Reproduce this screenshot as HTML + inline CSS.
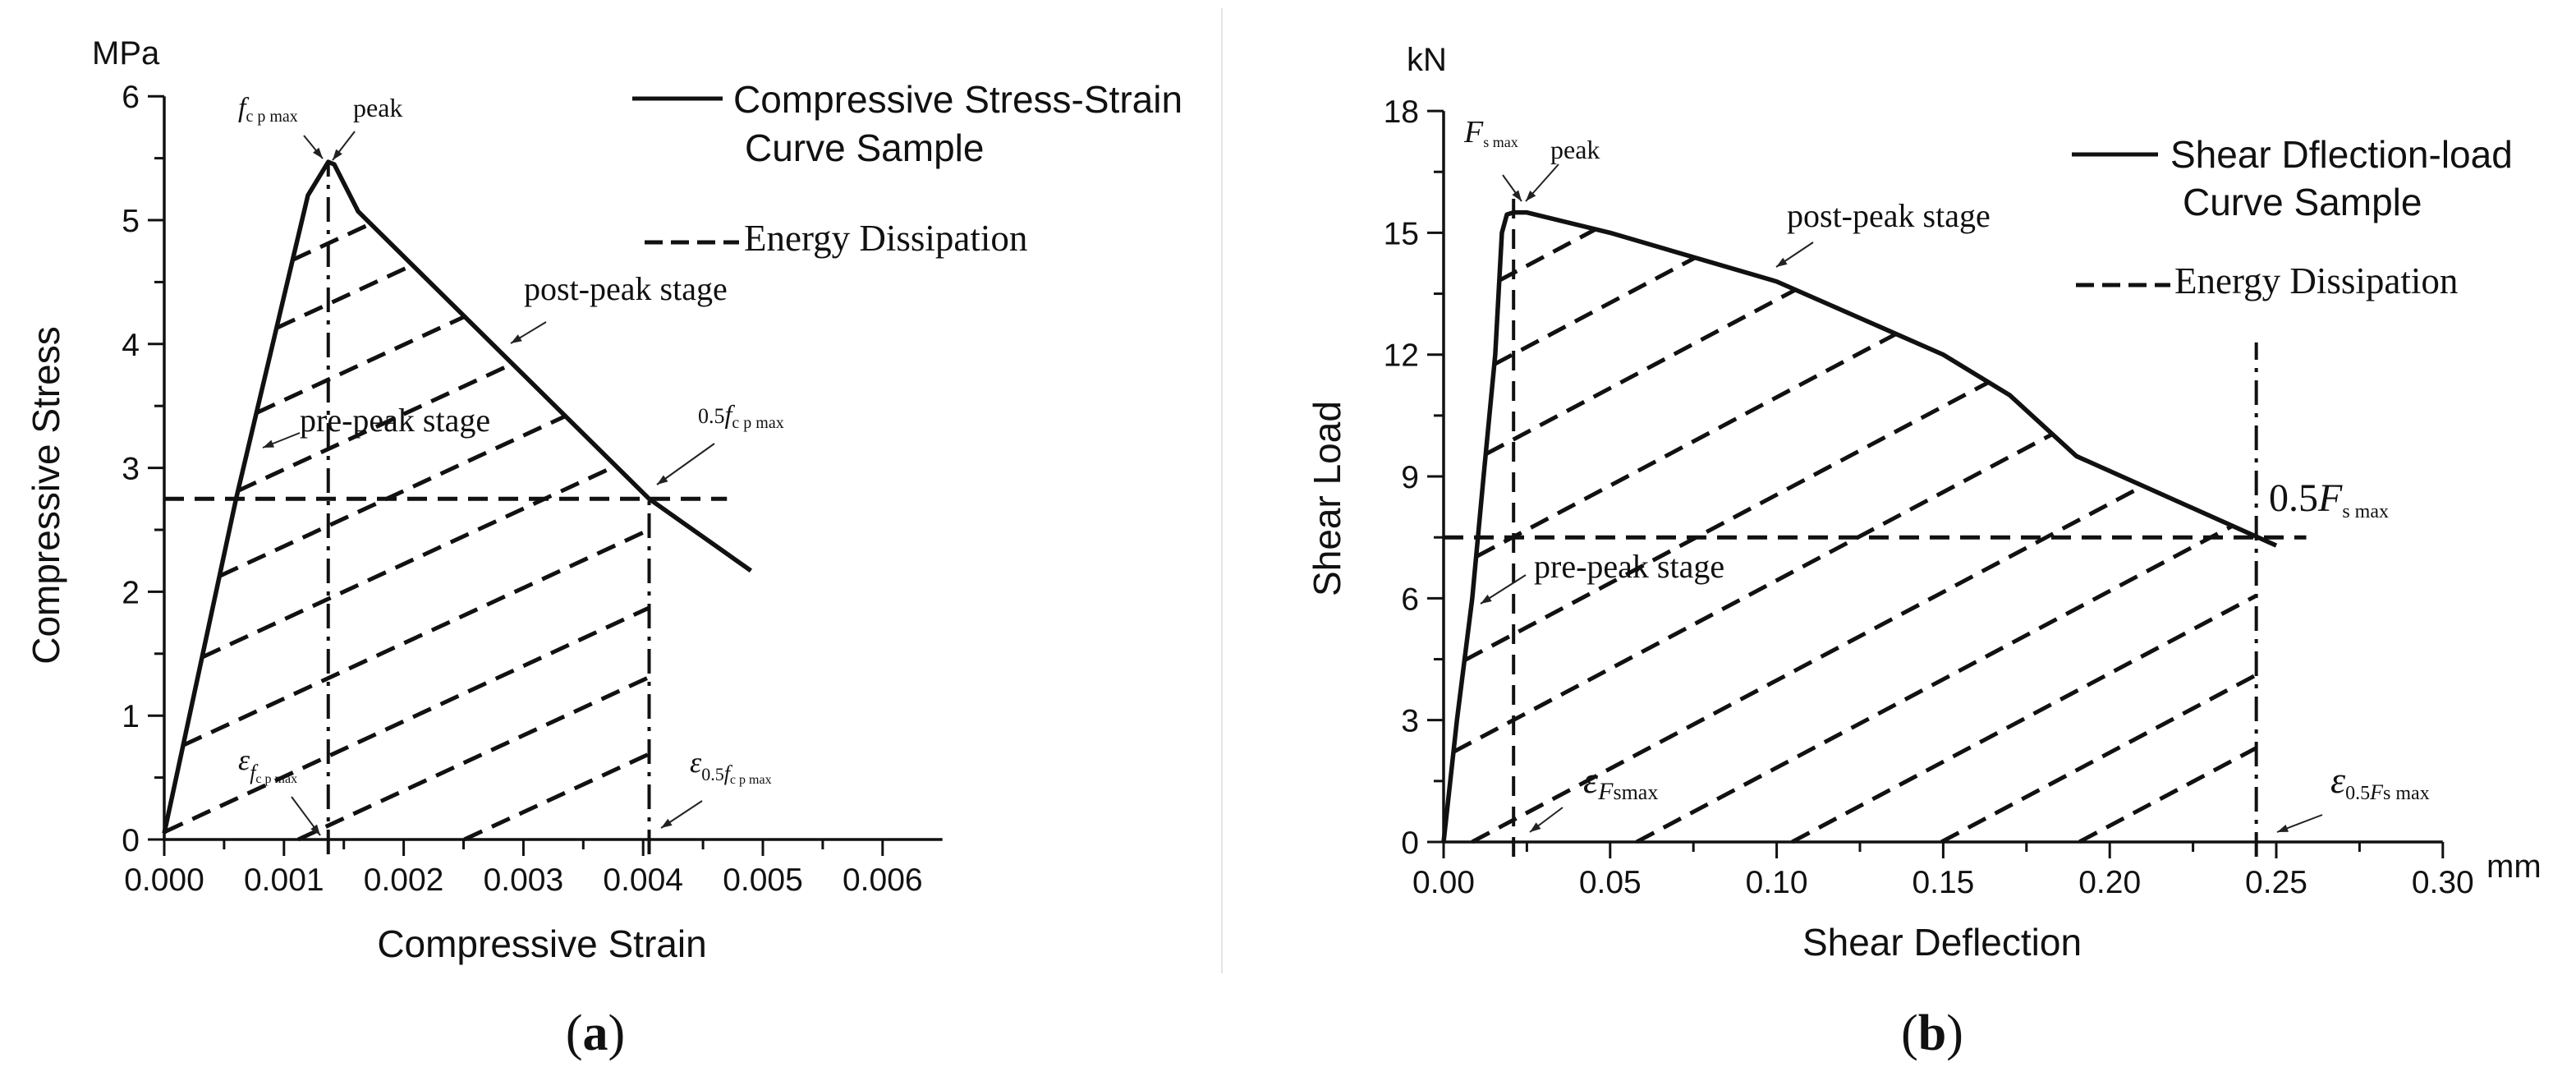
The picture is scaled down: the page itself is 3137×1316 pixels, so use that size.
<!DOCTYPE html>
<html><head><meta charset="utf-8"><style>
html,body{margin:0;padding:0;background:#fff;}
svg{display:block;}
text{fill:#111;}
.sans{font-family:"Liberation Sans",Arial,sans-serif;}
.serif{font-family:"Liberation Serif","Times New Roman",serif;}
</style></head><body>
<svg id="fig" width="3137" height="1316" viewBox="0 0 3137 1316" xmlns="http://www.w3.org/2000/svg">
<line x1="1488" y1="10" x2="1488" y2="1185" stroke="#e4e4e4" stroke-width="2"/>
<g id="pa"></g>
<g id="pb"></g>
</svg>
<script>
// ---- Panel (a) data ----
const aCurveStrain = [0, 0.0006, 0.0012, 0.00137, 0.00142, 0.00162, 0.00405, 0.0049];
const aCurveStress = [0.05, 2.75, 5.2, 5.47, 5.45, 5.07, 2.75, 2.17];
const aHatchOffsets = [-1.12, -0.5, 0.06, 0.69, 1.33, 1.92, 2.54, 3.1, 3.71, 4.2];
const aHatchSlope = [447];
const aXTicks = ["0.000","0.001","0.002","0.003","0.004","0.005","0.006"];
const aYTicks = ["0","1","2","3","4","5","6"];
const aPeak = [0.00137, 5.45];
const aHalf = [0.00405, 2.75];
// ---- Panel (b) data ----
const bCurveDefl = [0, 0.004, 0.0086, 0.012, 0.0155, 0.0175, 0.019, 0.021, 0.025, 0.05, 0.1, 0.15, 0.17, 0.19, 0.25];
const bCurveLoad = [0, 3, 6, 9, 12, 15, 15.45, 15.5, 15.5, 15, 13.8, 12, 11, 9.5, 7.3];
const bHatchOffsets = [-8.3, -6.5, -4.55, -2.52, -0.37, 2.09, 4.2, 6.6, 9.0, 11.1, 13.1, 15.1];
const bHatchSlope = [43.5];
const bXTicks = ["0.00","0.05","0.10","0.15","0.20","0.25","0.30"];
const bYTicks = ["0","3","6","9","12","15","18"];
const bPeak = [0.021, 15.5];
const bHalf = [0.244, 7.5];

const NS="http://www.w3.org/2000/svg";
function mk(parent, tag, attrs, txt){
  const e=document.createElementNS(NS,tag);
  for(const k in attrs) e.setAttribute(k, attrs[k]);
  if(txt!==undefined) e.textContent=txt;
  parent.appendChild(e); return e;
}
function interp(xs, ys, x){
  if(x<xs[0]||x>xs[xs.length-1]) return null;
  for(let i=0;i<xs.length-1;i++){ if(x>=xs[i]&&x<=xs[i+1]){const t=(x-xs[i])/(xs[i+1]-xs[i]||1);return ys[i]+t*(ys[i+1]-ys[i]);} }
  return null;
}
function arrow(g, x1,y1,x2,y2){
  const l=mk(g,'line',{x1,y1,x2,y2,stroke:'#222','stroke-width':2});
  
  
  const a=Math.atan2(y2-y1,x2-x1), s=14;
  const p=mk(g,'polygon',{points:`${x2},${y2} ${x2-s*Math.cos(a-0.35)},${y2-s*Math.sin(a-0.35)} ${x2-s*Math.cos(a+0.35)},${y2-s*Math.sin(a+0.35)}`,fill:'#222'});
  
  
}
function drawPanel(g, cfg){
  const {X,Y,xt,yt,xStep,yStep,xMin,xMax,yMax,curveX,curveY,offsets,slope,xLimit,peak,half,hLineEnd} = cfg;
  const ax=mk(g,'path',{d:`M${X(0)},${Y(yMax)} L${X(0)},${Y(0)} L${X(xMax)},${Y(0)}`,fill:'none',stroke:'#111','stroke-width':3.5});
  
  
  xt.forEach((lab,i)=>{
    const v=i*xStep, x=X(v);
    const t=mk(g,'line',{x1:x,y1:Y(0),x2:x,y2:Y(0)+20,stroke:'#111','stroke-width':3});
    
    
    if(i<xt.length-1){ const xm=X(v+xStep/2);
      const m=mk(g,'line',{x1:xm,y1:Y(0),x2:xm,y2:Y(0)+12,stroke:'#111','stroke-width':3});
      
      }
    const tl=mk(g,'text',{x:x,y:Y(0)+62,'text-anchor':'middle','font-size':39,class:'sans'},lab);
    
    
  });
  yt.forEach((lab,i)=>{
    const v=i*yStep, y=Y(v);
    const t=mk(g,'line',{x1:X(0)-20,y1:y,x2:X(0),y2:y,stroke:'#111','stroke-width':3});
    
    
    if(i<yt.length-1){ const ym=Y(v+yStep/2);
      const m=mk(g,'line',{x1:X(0)-12,y1:ym,x2:X(0),y2:ym,stroke:'#111','stroke-width':3});
      
      }
    const tl=mk(g,'text',{x:X(0)-30,y:y+14,'text-anchor':'end','font-size':39,class:'sans'},lab);
    
    
  });
  offsets.forEach(c=>{
    let best=null, cur=null;
    const N=800;
    for(let k=0;k<=N;k++){
      const x=xMin+(xLimit-xMin)*k/N;
      const cy=interp(curveX,curveY,x);
      const ly=c+slope*x;
      const ok = cy!==null && ly>=0 && ly<=cy;
      if(ok){ if(!cur) cur=[x,x]; else cur[1]=x; }
      else if(cur){ if(!best||cur[1]-cur[0]>best[1]-best[0]) best=cur; cur=null; }
    }
    if(cur&&(!best||cur[1]-cur[0]>best[1]-best[0])) best=cur;
    if(best){
      const h=mk(g,'line',{x1:X(best[0]),y1:Y(c+slope*best[0]),x2:X(best[1]),y2:Y(c+slope*best[1]),stroke:'#111','stroke-width':5,'stroke-dasharray':'24 13'});
      
      
    }
  });
  const hl=mk(g,'line',{x1:X(0),y1:Y(half[1]),x2:X(hLineEnd),y2:Y(half[1]),stroke:'#111','stroke-width':5,'stroke-dasharray':'24 13'});
  
  
  const v1=mk(g,'line',{x1:X(peak[0]),y1:Y(0)+18,x2:X(peak[0]),y2:Y(peak[1]+cfg.peakExt),stroke:'#111','stroke-width':4,'stroke-dasharray':cfg.peakDash});
  
  
  const v2=mk(g,'line',{x1:X(half[0]),y1:Y(0)+18,x2:X(half[0]),y2:Y(cfg.halfTop),stroke:'#111','stroke-width':4,'stroke-dasharray':'30 10 5 10'});
  
  
  const pts=curveX.map((v,i)=>X(v)+','+Y(curveY[i])).join(' ');
  const cl=mk(g,'polyline',{points:pts,fill:'none',stroke:'#111','stroke-width':5.5,'stroke-linejoin':'round'});
  
  
}

const ga=document.getElementById('pa');
const XA=v=>200+v*145800, YA=v=>1022-v*150.8;
drawPanel(ga,{X:XA,Y:YA,xt:aXTicks,yt:aYTicks,xStep:0.001,yStep:1,xMin:0,xMax:0.0065,yMax:6,
  curveX:aCurveStrain,curveY:aCurveStress,offsets:aHatchOffsets,slope:aHatchSlope[0],xLimit:aHalf[0],
  peak:aPeak,half:aHalf,hLineEnd:0.0047,peakExt:0,peakDash:'30 10 5 10',halfTop:aHalf[1]});
const gb=document.getElementById('pb');
const XB=v=>1758+v*4056, YB=v=>1025-v*49.44;
drawPanel(gb,{X:XB,Y:YB,xt:bXTicks,yt:bYTicks,xStep:0.05,yStep:3,xMin:0,xMax:0.3,yMax:18,
  curveX:bCurveDefl,curveY:bCurveLoad,offsets:bHatchOffsets,slope:bHatchSlope[0],xLimit:bHalf[0],
  peak:bPeak,half:bHalf,hLineEnd:0.259,peakExt:0.4,peakDash:'24 13',halfTop:12.3});

arrow(ga,370,165,393,193); arrow(ga,432,160,405,195);
arrow(ga,665,392,622,418); arrow(ga,365,527,320,545);
arrow(ga,870,540,800,590); arrow(ga,355,970,390,1017); arrow(ga,855,975,805,1008);
arrow(gb,1568+262,213,1568+285,245); arrow(gb,1568+330,200,1568+290,245);
arrow(gb,1568+640,295,1568+595,325); arrow(gb,1568+290,700,1568+235,735);
arrow(gb,1568+335,983,1568+295,1013); arrow(gb,1568+1260,992,1568+1205,1013);
</script>
<svg width="3137" height="1316" style="position:absolute;left:0;top:0" xmlns="http://www.w3.org/2000/svg">
<text x="112" y="78" font-size="40" class="sans">MPa</text>
<text transform="translate(72,603) rotate(-90)" text-anchor="middle" font-size="46" class="sans">Compressive Stress</text>
<text x="660" y="1165" text-anchor="middle" font-size="46" class="sans">Compressive Strain</text>
<line x1="770" y1="120" x2="880" y2="120" stroke="#111" stroke-width="5"/>
<text x="893" y="137" font-size="46" class="sans">Compressive Stress-Strain</text>
<text x="907" y="196" font-size="46" class="sans">Curve Sample</text>
<line x1="785" y1="295" x2="900" y2="295" stroke="#111" stroke-width="5" stroke-dasharray="22 10"/>
<text x="906" y="305" font-size="45" class="serif">Energy Dissipation</text>
<text x="290" y="142" font-size="34" class="serif"><tspan font-style="italic">f</tspan><tspan font-size="20" dy="6">c p max</tspan></text>
<text x="430" y="142" font-size="32" class="serif">peak</text>
<text x="638" y="365" font-size="40" class="serif">post-peak stage</text>
<text x="365" y="525" font-size="40" class="serif">pre-peak stage</text>
<text x="850" y="515" font-size="26" class="serif">0.5<tspan font-style="italic" font-size="32">f</tspan><tspan font-size="20" dy="6">c p max</tspan></text>
<text x="290" y="937" font-size="36" class="serif" font-style="italic">ε<tspan font-size="26" dy="12">f</tspan><tspan font-size="16" font-style="normal" dy="4">c p max</tspan></text>
<text x="840" y="940" font-size="36" class="serif" font-style="italic">ε<tspan font-size="22" font-style="normal" dy="10">0.5</tspan><tspan font-size="26" dy="0">f</tspan><tspan font-size="16" font-style="normal" dy="4">c p max</tspan></text>
<text x="725" y="1278" text-anchor="middle" font-size="62" class="serif">(<tspan font-weight="bold">a</tspan>)</text>
<text x="1713" y="86" font-size="40" class="sans">kN</text>
<text x="3028" y="1068" font-size="40" class="sans">mm</text>
<text transform="translate(1632,607) rotate(-90)" text-anchor="middle" font-size="46" class="sans">Shear Load</text>
<text x="2365" y="1163" text-anchor="middle" font-size="46" class="sans">Shear Deflection</text>
<line x1="2523" y1="188" x2="2628" y2="188" stroke="#111" stroke-width="5"/>
<text x="2643" y="204" font-size="46" class="sans">Shear Dflection-load</text>
<text x="2658" y="262" font-size="46" class="sans">Curve Sample</text>
<line x1="2528" y1="347" x2="2643" y2="347" stroke="#111" stroke-width="5" stroke-dasharray="22 10"/>
<text x="2648" y="357" font-size="45" class="serif">Energy Dissipation</text>
<text x="1783" y="173" font-size="38" class="serif"><tspan font-style="italic">F</tspan><tspan font-size="18" dy="6">s max</tspan></text>
<text x="1888" y="193" font-size="32" class="serif">peak</text>
<text x="2176" y="276" font-size="40" class="serif">post-peak stage</text>
<text x="1868" y="703" font-size="40" class="serif">pre-peak stage</text>
<text x="2763" y="622" font-size="48" class="serif">0.5<tspan font-style="italic">F</tspan><tspan font-size="24" dy="8">s max</tspan></text>
<text x="1928" y="965" font-size="46" class="serif" font-style="italic">ε<tspan font-size="30" dy="8">F</tspan><tspan font-size="26" font-style="normal" dy="0">smax</tspan></text>
<text x="2838" y="965" font-size="46" class="serif" font-style="italic">ε<tspan font-size="24" font-style="normal" dy="8">0.5</tspan><tspan font-size="26">F</tspan><tspan font-size="24" font-style="normal">s max</tspan></text>
<text x="2353" y="1278" text-anchor="middle" font-size="62" class="serif">(<tspan font-weight="bold">b</tspan>)</text>
</svg>
</body></html>
